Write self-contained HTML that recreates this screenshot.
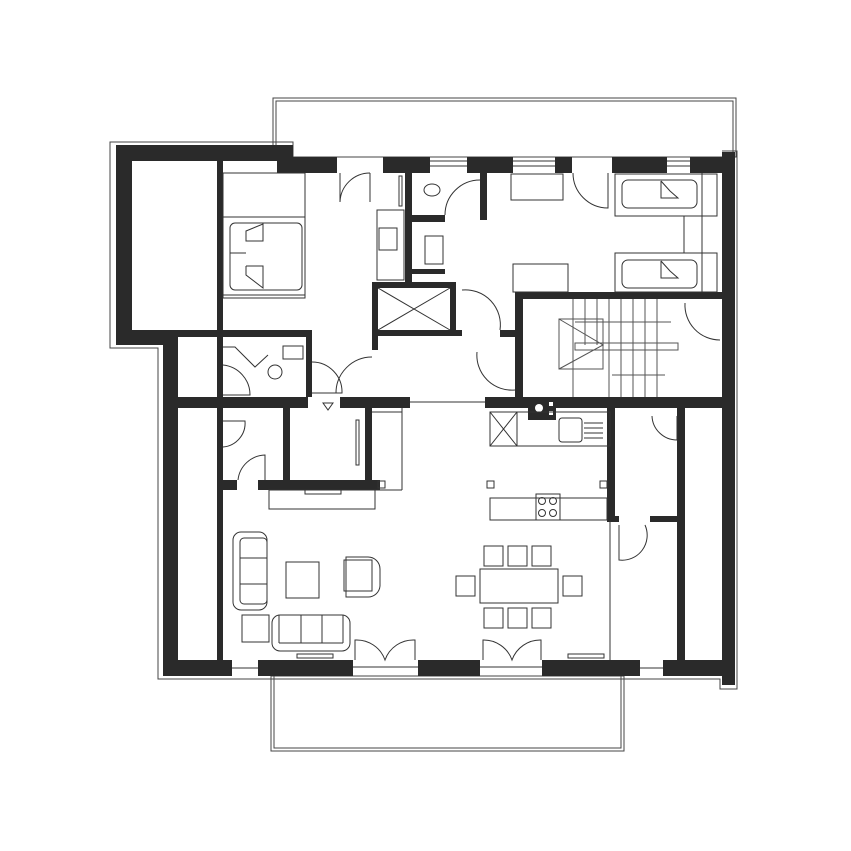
<!DOCTYPE html>
<html><head><style>html,body{margin:0;padding:0;background:#fff;width:851px;height:851px;overflow:hidden}</style></head>
<body>
<svg width="851" height="851" viewBox="0 0 851 851" xmlns="http://www.w3.org/2000/svg">
<g fill="none" stroke="#444" stroke-width="1">
<!-- balconies -->
<rect x="273" y="98" width="463" height="59"/>
<rect x="276" y="101" width="457" height="56"/>
<rect x="271" y="676" width="353" height="75"/>
<rect x="274" y="676" width="347" height="72"/>
<!-- outer thin contour -->
<polyline points="276,156 293,156 293,142 110,142 110,348 158,348 158,679 720,679 720,689 737,689 737,151 722,151"/>
</g>
<g fill="#2a2a2a">
<!-- left block -->
<rect x="116" y="145" width="177" height="16"/>
<rect x="116" y="145" width="16" height="200"/>
<rect x="277" y="145" width="16" height="28"/>
<rect x="116" y="330" width="62" height="15"/>
<rect x="132" y="330" width="180" height="7"/>
<rect x="217" y="161" width="6" height="176"/>
<rect x="163" y="330" width="15" height="346"/>
<!-- top wall -->
<rect x="277" y="157" width="60" height="16"/>
<rect x="383" y="157" width="47" height="16"/>
<rect x="467" y="157" width="46" height="16"/>
<rect x="555" y="157" width="17" height="16"/>
<rect x="612" y="157" width="55" height="16"/>
<rect x="690" y="157" width="32" height="16"/>
<rect x="722" y="152" width="13" height="533"/>
<!-- bathroom walls -->
<rect x="405" y="173" width="7" height="110"/>
<rect x="412" y="215" width="33" height="7"/>
<rect x="480" y="173" width="7" height="47"/>
<rect x="412" y="269" width="33" height="5"/>
<rect x="372" y="282" width="78" height="6"/>
<rect x="372" y="282" width="6" height="68"/>
<rect x="450" y="282" width="6" height="50"/>
<rect x="378" y="330" width="84" height="6"/>
<!-- WC -->
<rect x="306" y="337" width="6" height="60"/>
<rect x="217" y="337" width="6" height="60"/>
<!-- stair -->
<rect x="515" y="292" width="207" height="7"/>
<rect x="515" y="292" width="8" height="105"/>
<rect x="500" y="330" width="15" height="7"/>
<!-- middle wall -->
<rect x="163" y="397" width="145" height="11"/>
<rect x="340" y="397" width="37" height="11"/>
<rect x="377" y="397" width="33" height="11"/>
<rect x="485" y="397" width="250" height="11"/>
<!-- lower rooms -->
<rect x="217" y="408" width="6" height="252"/>
<rect x="283" y="408" width="7" height="82"/>
<rect x="365" y="408" width="7" height="82"/>
<rect x="223" y="480" width="157" height="10" fill="#fff"/>
<rect x="217" y="480" width="20" height="10"/>
<rect x="258" y="480" width="122" height="10"/>
<rect x="607" y="408" width="8" height="112"/>
<rect x="677" y="408" width="8" height="252"/>
<rect x="607" y="516" width="12" height="6"/>
<rect x="650" y="516" width="35" height="6"/>
<!-- bottom wall -->
<rect x="163" y="660" width="69" height="16"/>
<rect x="258" y="660" width="95" height="16"/>
<rect x="418" y="660" width="62" height="16"/>
<rect x="542" y="660" width="98" height="16"/>
<rect x="663" y="660" width="72" height="16"/>
<!-- chimney -->
<rect x="528" y="400" width="28" height="20"/>
</g>
<g fill="#fff"><circle cx="539" cy="408" r="4"/><rect x="549" y="402" width="4" height="4"/><rect x="549" y="411" width="4" height="4"/></g>
<g fill="none" stroke="#333" stroke-width="1">
<!-- windows -->
<line x1="430" y1="161" x2="467" y2="161"/><line x1="430" y1="166" x2="467" y2="166"/>
<line x1="513" y1="161" x2="555" y2="161"/><line x1="513" y1="166" x2="555" y2="166"/>
<line x1="667" y1="161" x2="690" y2="161"/><line x1="667" y1="166" x2="690" y2="166"/>
<line x1="232" y1="668" x2="258" y2="668"/><line x1="640" y1="668" x2="663" y2="668"/>
<line x1="353" y1="667" x2="418" y2="667"/><line x1="480" y1="667" x2="542" y2="667"/>
<line x1="410" y1="402" x2="485" y2="402"/>
<!-- bedroom -->
<rect x="223" y="173" width="82" height="125"/>
<rect x="223" y="217" width="82" height="78"/>
<rect x="230" y="223" width="72" height="67" rx="5"/>
<path d="M230 253 H246 M246 231 L263 224 V241 H246 V231 Z M246 266 V275 L263 288 V266 H246"/>
<rect x="377" y="210" width="27" height="70"/><rect x="379" y="228" width="18" height="22"/>
<rect x="399" y="176" width="3" height="30"/>
<!-- doors -->
<path d="M340 173 V202 A30 30 0 0 1 370 173"/><line x1="370" y1="173" x2="370" y2="202"/>
<path d="M445 215 A35 35 0 0 1 480 180"/>
<path d="M573 173 A35 35 0 0 0 608 208 V173"/>
<path d="M462 290 A35 35 0 0 1 500 330"/>
<path d="M477 352 A35 35 0 0 0 515 390"/>
<path d="M685 303 A35 35 0 0 0 720 340"/>
<path d="M223 365 A30 30 0 0 1 250 395 H223"/>
<path d="M312 362 A30 30 0 0 1 342 393 H312"/>
<path d="M336 393 A36 36 0 0 1 372 357"/>
<path d="M223 421 H245 A24 24 0 0 1 223 447"/>
<path d="M238 480 A28 28 0 0 1 265 455 V480"/>
<path d="M652 416 A25 25 0 0 0 677 440 V416"/>
<path d="M619 525 V560 A25 25 0 0 0 645 525"/>
<path d="M355 660 V640 A30 30 0 0 1 385 660 A30 30 0 0 1 415 640 V660"/>
<path d="M483 660 V640 A30 30 0 0 1 512 660 A30 30 0 0 1 541 640 V660"/>
<!-- toilets/sinks -->
<ellipse cx="432" cy="190" rx="8" ry="6"/><rect x="425" y="236" width="18" height="28"/>
<rect x="283" y="346" width="20" height="13"/><circle cx="275" cy="372" r="7"/>
<path d="M223 347 H235 L255 367 L268 355"/>
<!-- shower -->
<path d="M378 288 L450 330 M450 288 L378 330"/>
<!-- living top -->
<rect x="511" y="174" width="52" height="26"/>
<rect x="513" y="264" width="55" height="28"/>
<rect x="615" y="174" width="102" height="42"/><rect x="622" y="180" width="75" height="28" rx="6"/>
<path d="M661 181 V198 H678 L670 191 L661 181"/>
<rect x="615" y="253" width="102" height="39"/><rect x="622" y="260" width="75" height="28" rx="6"/>
<path d="M661 261 V278 H678 L670 271 L661 261"/>
<line x1="684" y1="216" x2="684" y2="253"/><line x1="702" y1="173" x2="702" y2="292"/>
<!-- stairs -->
<g stroke="#555">
<line x1="573" y1="299" x2="573" y2="397"/><line x1="585" y1="299" x2="585" y2="345"/><line x1="597" y1="299" x2="597" y2="345"/><line x1="609" y1="299" x2="609" y2="345"/><line x1="621" y1="299" x2="621" y2="345"/><line x1="633" y1="299" x2="633" y2="345"/><line x1="645" y1="299" x2="645" y2="345"/><line x1="657" y1="299" x2="657" y2="345"/>
<line x1="609" y1="345" x2="609" y2="397"/><line x1="621" y1="345" x2="621" y2="397"/><line x1="633" y1="345" x2="633" y2="397"/><line x1="645" y1="345" x2="645" y2="397"/><line x1="657" y1="345" x2="657" y2="397"/>
<rect x="575" y="343" width="103" height="7"/>
<rect x="559" y="319" width="44" height="50"/><path d="M559 319 L603 345 L559 369"/>
<line x1="575" y1="322" x2="671" y2="322"/><line x1="612" y1="375" x2="665" y2="375"/>
</g>
<!-- hall triangle -->
<path d="M323 403 L333 403 L328 410 Z"/>
<!-- corridor room -->
<rect x="356" y="420" width="3" height="45"/>
<line x1="372" y1="412" x2="402" y2="412"/><line x1="402" y1="408" x2="402" y2="490"/><line x1="372" y1="490" x2="402" y2="490"/>
<rect x="269" y="490" width="106" height="19"/><rect x="305" y="490" width="36" height="4"/>
<!-- kitchen -->
<rect x="490" y="412" width="120" height="34"/><line x1="517" y1="412" x2="517" y2="446"/>
<path d="M490 412 L517 446 M517 412 L490 446"/>
<rect x="559" y="418" width="23" height="24" rx="3"/>
<line x1="584" y1="423" x2="603" y2="423"/><line x1="584" y1="428" x2="603" y2="428"/><line x1="584" y1="433" x2="603" y2="433"/><line x1="584" y1="438" x2="603" y2="438"/>
<rect x="490" y="498" width="117" height="22"/><rect x="536" y="494" width="24" height="26"/>
<circle cx="542" cy="501" r="3.5"/><circle cx="553" cy="501" r="3.5"/><circle cx="542" cy="513" r="3.5"/><circle cx="553" cy="513" r="3.5"/>
<rect x="378" y="481" width="7" height="7"/><rect x="487" y="481" width="7" height="7"/><rect x="600" y="481" width="7" height="7"/>
<line x1="610" y1="520" x2="610" y2="660"/>
<!-- living furniture -->
<rect x="233" y="532" width="34" height="78" rx="8"/><rect x="240" y="538" width="27" height="66" rx="4"/>
<line x1="240" y1="558" x2="267" y2="558"/><line x1="240" y1="584" x2="267" y2="584"/>
<rect x="286" y="562" width="33" height="36"/>
<path d="M346 557 H368 A12 12 0 0 1 380 569 V586 A12 12 0 0 1 368 597 H346 Z"/><rect x="344" y="560" width="28" height="31"/>
<rect x="242" y="615" width="27" height="27"/>
<rect x="272" y="615" width="78" height="36" rx="8"/><line x1="279" y1="615" x2="279" y2="643"/><line x1="279" y1="643" x2="343" y2="643"/><line x1="343" y1="615" x2="343" y2="643"/><line x1="301" y1="615" x2="301" y2="643"/><line x1="322" y1="615" x2="322" y2="643"/>
<rect x="297" y="654" width="36" height="4"/><rect x="568" y="654" width="36" height="4"/>
<!-- dining -->
<rect x="480" y="569" width="78" height="34"/>
<rect x="484" y="546" width="19" height="20"/><rect x="508" y="546" width="19" height="20"/><rect x="532" y="546" width="19" height="20"/>
<rect x="484" y="608" width="19" height="20"/><rect x="508" y="608" width="19" height="20"/><rect x="532" y="608" width="19" height="20"/>
<rect x="456" y="576" width="19" height="20"/><rect x="563" y="576" width="19" height="20"/>
</g>
</svg>
</body></html>
